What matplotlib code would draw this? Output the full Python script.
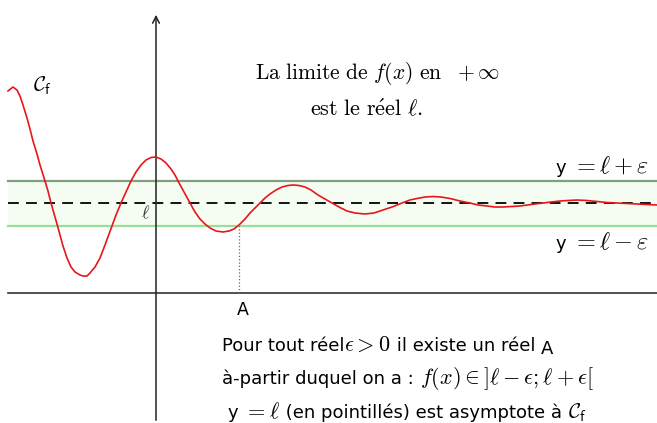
import matplotlib.pyplot as plt

plt.rcParams['mathtext.fontset'] = 'cm'
plt.rcParams['font.family'] = ['DejaVu Sans']

# curve points (units: pixels from the origin)
xs = [-148, -143, -139, -136, -133, -129, -126, -123, -119, -116,
      -111, -108, -106, -103, -99, -96, -93, -89, -85, -81,
      -76, -73, -69, -66, -61, -56, -51, -44, -40, -35,
      -30, -25, -20, -15, -10, -5, 0, 5, 10, 15,
      19, 22, 28, 34, 39, 44, 49, 54, 60, 67,
      73, 78, 83, 89, 94, 99, 104, 109, 114, 120,
      126, 132, 137, 143, 149, 155, 162, 169, 176, 184,
      191, 199, 209, 218, 227, 236, 246, 254, 261, 269,
      277, 285, 294, 304, 314, 322, 331, 339, 347, 356,
      364, 375, 387, 395, 404, 412, 421, 431, 441, 451,
      461, 471, 481, 491, 501]
ys = [202, 206, 203, 197, 188, 175, 164, 152, 139, 128,
      112, 102, 94, 83, 69, 58, 47, 35, 26, 21,
      18, 17, 17, 20, 26, 35, 48, 67, 78, 90,
      101, 112, 121, 128, 133, 135.5, 136, 134, 130, 124,
      118, 112, 101, 90, 81, 74, 69, 65, 62, 61,
      62, 64, 68, 74, 80, 85, 90, 95, 99, 103,
      106, 107.5, 108, 107.5, 106, 103, 98, 94, 90, 85.5,
      82, 80, 79, 80, 83, 86, 90, 93, 94.5, 96,
      96.5, 96, 94.5, 92, 90, 88, 87, 86, 86, 86.5,
      87, 88.5, 90, 91, 92, 92.5, 93, 92.5, 91.5, 90.5,
      90, 89.5, 89, 88.5, 88]

ell = 90
eps = 22.5
A = 83

fig = plt.figure(figsize=(6.57, 4.23), dpi=100)
ax = fig.add_axes([0, 0, 1, 1])
ax.set_xlim(-156, 501)
ax.set_ylim(-130, 293)
ax.axis('off')
renderer = fig.canvas.get_renderer()


def row(x, y, pieces):
    # write pieces one after the other on the same baseline
    for s, size, dy in pieces:
        t = ax.text(x, y + dy, s, fontsize=size, ha='left', va='baseline')
        bb = t.get_window_extent(renderer)
        x = ax.transData.inverted().transform((bb.x1, bb.y0))[0]


# band around the limit
ax.fill_between([-148, 501], ell - eps, ell + eps, color='#f5fdf2', zorder=1)
ax.plot([-148, 501], [ell + eps, ell + eps], color='#829f82', lw=1.6, zorder=2)
ax.plot([-148, 501], [ell - eps, ell - eps], color='#98e098', lw=1.6, zorder=2)
ax.plot([-148, 501], [ell, ell], color='black', lw=1.3, ls=(0, (6, 4)), zorder=3)

# axes
ax.plot([-148, 501], [0, 0], color='#333333', lw=1.2, zorder=2)
ax.annotate('', xy=(0, 281), xytext=(0, -130),
            arrowprops=dict(arrowstyle='->', color='#222222', lw=1.1, mutation_scale=12))

# dotted line at A
ax.plot([A, A], [0, ell - eps], color='#666666', lw=0.9, ls=':', zorder=2)

ax.plot(xs, ys, color='#e8161b', lw=1.2, zorder=4)

ax.text(-114, 207, r'$\mathcal{C}_\mathsf{f}$', fontsize=15, ha='center', va='center')
ax.text(-10, 80, r'$\ell$', fontsize=13, ha='center', va='center', color='#333333')

ax.text(221, 220, r'$\mathrm{La\ limite\ de\ }f(x)\mathrm{\ en\ \ }+\infty$',
        fontsize=15.5, ha='center', va='center')
ax.text(210, 185, r'$\mathrm{est\ le\ r\acute{e}el\ }\ell.$',
        fontsize=16, ha='center', va='center')

row(400, 120, [('y ', 13, 0), (r'$= \ell + \varepsilon$', 17.5, 0)])
row(400, 44, [('y ', 13, 0), (r'$= \ell - \varepsilon$', 17.5, 0)])

ax.text(87, -17, 'A', fontsize=12.5, ha='center', va='center')
row(66, -58, [('Pour tout réel', 13, 0), (r'$\epsilon > 0$', 16, 0),
              (' il existe un réel ', 13, 0), ('A', 13, -3)])
row(66, -91, [('à-partir duquel on a : ', 13, 0),
              (r'$f(x) \in ]\ell - \epsilon ; \ell + \epsilon[$', 16, 0)])
row(72, -125, [('y ', 13, 0), (r'$= \ell$', 16, 0),
               (' (en pointillés) est asymptote à ', 13, 0),
               (r'$\mathcal{C}_\mathsf{f}$', 15, 0)])

fig.savefig('out.png', dpi=100)
